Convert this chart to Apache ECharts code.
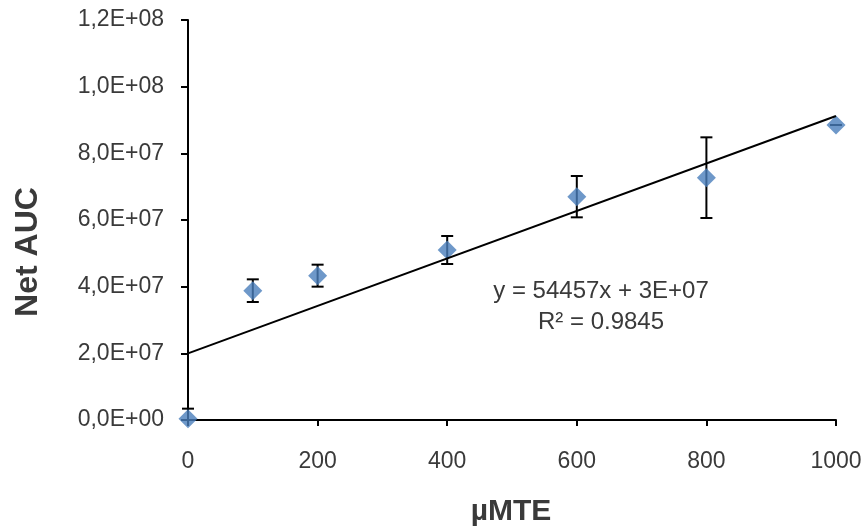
<!DOCTYPE html>
<html>
<head>
<meta charset="utf-8">
<script src="https://cdn.jsdelivr.net/npm/echarts@6/dist/echarts.min.js"></script>
<style>html,body{margin:0;padding:0;background:#fff}#c{width:865px;height:529px}</style>
</head>
<body>
<div id="c"></div>
<script>
const xValues = [0, 100, 200, 400, 600, 800, 1000];
const yValues = [0.04e7, 3.88e7, 4.33e7, 5.1e7, 6.7e7, 7.27e7, 8.85e7];
const yErrors = [0.3e7, 0.34e7, 0.33e7, 0.42e7, 0.62e7, 1.21e7, 0.0e7];
const trendX = [0, 1000];
const trendY = [2.0e7, 9.12e7];
const yTickLabels = ['0,0E+00', '2,0E+07', '4,0E+07', '6,0E+07', '8,0E+07', '1,0E+08', '1,2E+08'];
const xTickLabels = ['0', '200', '400', '600', '800', '1000'];
const equationText = ['y = 54457x + 3E+07', 'R\u00b2 = 0.9845'];
const xTitle = 'µMTE';
const yTitle = 'Net AUC';

const FONT = 'Liberation Sans, Arial, sans-serif';
const TXT = '#3a3a3a';
const chart = echarts.init(document.getElementById('c'), null, {renderer: 'canvas'});

const points = xValues.map((x, i) => [x, yValues[i]]);
const errData = xValues.map((x, i) => [x, yValues[i] - yErrors[i], yValues[i] + yErrors[i]]);

chart.setOption({
  animation: false,
  backgroundColor: '#fff',
  grid: {left: 188, right: 29, top: 20, bottom: 109, containLabel: false},
  xAxis: {
    type: 'value', min: 0, max: 1000, interval: 200,
    axisLine: {lineStyle: {color: '#000', width: 2}},
    axisTick: {show: true, length: 6, lineStyle: {color: '#000', width: 2}},
    splitLine: {show: false},
    axisLabel: {
      fontFamily: FONT, fontSize: 23, color: TXT, margin: 30,
      formatter: v => xTickLabels[Math.round(v / 200)] ?? ''
    }
  },
  yAxis: {
    type: 'value', min: 0, max: 1.2e8, interval: 2e7,
    axisLine: {show: true, lineStyle: {color: '#000', width: 2}},
    axisTick: {show: true, length: 7, lineStyle: {color: '#000', width: 2}},
    splitLine: {show: false},
    axisLabel: {
      fontFamily: FONT, fontSize: 23, color: TXT, margin: 24,
      formatter: v => yTickLabels[Math.round(v / 2e7)] ?? ''
    }
  },
  series: [
    {
      type: 'custom', z: 2, clip: false,
      data: errData,
      renderItem: function (params, api) {
        const x = api.value(0);
        const loV = api.value(1);
        const lo = api.coord([x, Math.max(0, loV)]);
        const hi = api.coord([x, api.value(2)]);
        const w = 6;
        const st = {stroke: '#000', lineWidth: 2};
        const kids = [
          {type: 'line', shape: {x1: lo[0], y1: lo[1], x2: hi[0], y2: hi[1]}, style: st},
          {type: 'line', shape: {x1: hi[0] - w, y1: hi[1], x2: hi[0] + w, y2: hi[1]}, style: st}
        ];
        if (loV >= 0) kids.push({type: 'line', shape: {x1: lo[0] - w, y1: lo[1], x2: lo[0] + w, y2: lo[1]}, style: st});
        return {type: 'group', children: kids};
      }
    },
    {
      type: 'scatter', z: 3, clip: false,
      symbol: 'diamond', symbolSize: 19,
      itemStyle: {color: '#4a7ebb'},
      data: points
    },
    {
      type: 'line', z: 4, symbol: 'none',
      lineStyle: {color: '#000', width: 2},
      data: trendX.map((x, i) => [x, trendY[i]])
    }
  ],
  graphic: [
    {type: 'text', x: 601, y: 291, style: {text: equationText[0], fontFamily: FONT, fontSize: 24, fill: TXT, textAlign: 'center', textVerticalAlign: 'middle'}},
    {type: 'text', x: 601, y: 322, style: {text: equationText[1], fontFamily: FONT, fontSize: 24, fill: TXT, textAlign: 'center', textVerticalAlign: 'middle'}},
    {type: 'text', x: 511, y: 512, style: {text: xTitle, fontFamily: FONT, fontSize: 30, fontWeight: 'bold', fill: TXT, textAlign: 'center', textVerticalAlign: 'middle'}},
    {type: 'text', x: 28, y: 252, rotation: Math.PI / 2, style: {text: yTitle, fontFamily: FONT, fontSize: 32, fontWeight: 'bold', fill: TXT, textAlign: 'center', textVerticalAlign: 'middle'}}
  ]
});
</script>
</body>
</html>
